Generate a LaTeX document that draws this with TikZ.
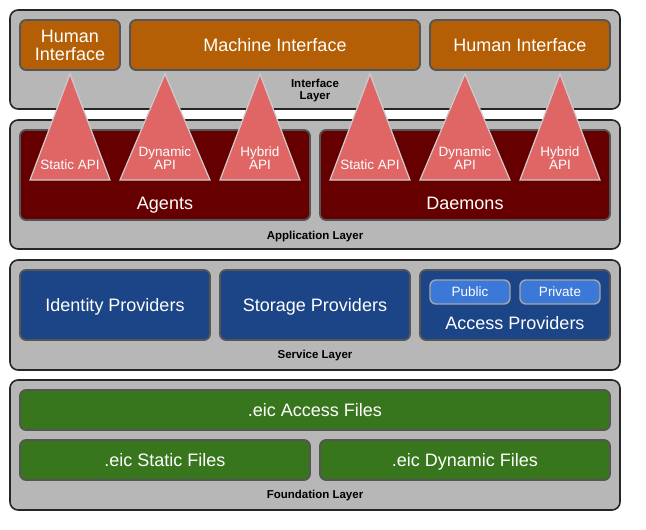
\documentclass[tikz,border=0pt]{standalone}
\usepackage{fontspec}
\setmainfont{Liberation Sans}
\usetikzlibrary{positioning}
\definecolor{layergray}{HTML}{B7B7B7}
\definecolor{ifaceorange}{HTML}{B45F06}
\definecolor{appred}{HTML}{660000}
\definecolor{svcblue}{HTML}{1C4587}
\definecolor{subblue}{HTML}{3C78D8}
\definecolor{fndgreen}{HTML}{38761D}
\definecolor{apipink}{HTML}{E06666}
\definecolor{boxline}{HTML}{555555}

\begin{document}
\begin{tikzpicture}[x=1pt,y=-1pt,
    layer/.style={draw=black!85, line width=1.6pt, fill=layergray, rounded corners=8pt, minimum width=610pt},
    box/.style={draw=boxline, line width=1.8pt, rounded corners=6pt, inner sep=0pt},
    txtml/.style={text=white, font=\fontsize{18}{18}\selectfont, align=center},
    txt/.style={txtml, text height=12.9pt, text depth=0pt},
    iface/.style={box, fill=ifaceorange, minimum height=50pt},
    app/.style={box, fill=appred, minimum width=290pt, minimum height=90pt},
    svc/.style={box, fill=svcblue, minimum width=190pt, minimum height=70pt},
    fnd/.style={box, fill=fndgreen, minimum height=40pt},
    sub/.style={draw=black!35, line width=1.4pt, rounded corners=6pt, fill=subblue, text=white,
        minimum width=80pt, minimum height=24pt, inner sep=0pt, text height=9.7pt, text depth=0pt,
        font=\fontsize{13.5}{14}\selectfont},
    api/.style={draw=black!20, line width=1.2pt, fill=apipink},
    apitext/.style={text=white, inner sep=0pt, anchor=south, align=center, font=\fontsize{13.5}{13}\selectfont},
    layername/.style={align=center, font=\bfseries\fontsize{11.5}{12}\selectfont}]
    \useasboundingbox (0,0) rectangle (646,530);

    % layers
    \node[layer, minimum height=99pt]  (l_iface) at (315,59.5) {};
    \node[layer, minimum height=129pt] (l_app)   at (315,184.5) {};
    \node[layer, minimum height=110pt] (l_svc)   at (315,315) {};
    \node[layer, minimum height=130pt] (l_fnd)   at (315,445) {};

    % interface layer
    \node[iface, minimum width=100pt, txtml] (hi_l) at (70,45)  {Human\\Interface};
    \node[iface, minimum width=290pt, txt] (mi)   at (275,45) {Machine Interface};
    \node[iface, minimum width=180pt, txt] (hi_r) at (520,45) {Human Interface};
    \node[layername] at (315,91) {Interface\\Layer};

    % application layer
    \node[app] (agents)  at (165,175) {};
    \node[app] (daemons) at (465,175) {};
    \node[txt] at (165,203.5) {Agents};
    \node[txt] at (465,203.5) {Daemons};
    \node[layername] at (315,237) {Application Layer};

    \foreach \cx/\hw/\txt in {70/40/Static API, 165/45/{Dynamic\\API}, 260/40/{Hybrid\\API},
                              370/40/Static API, 465/45/{Dynamic\\API}, 560/40/{Hybrid\\API}}{
        \draw[api] (\cx,74) -- (\cx-\hw,180) -- (\cx+\hw,180) -- cycle;
        \node[apitext] at (\cx,170) {\txt};
    }

    % service layer
    \node[svc, txt] (idp) at (115,305) {Identity Providers};
    \node[svc, txt] (stp) at (315,305) {Storage Providers};
    \node[svc] (acp) at (515,305) {};
    \node[sub] (pub)  at (470,292) {Public};
    \node[sub] (priv) at (560,292) {Private};
    \node[txt] at (515,323) {Access Providers};
    \node[layername] at (315,356) {Service Layer};

    % foundation layer
    \node[fnd, minimum width=590pt, txt] (f_acc) at (315,410) {.eic Access Files};
    \node[fnd, minimum width=290pt, txt] (f_sta) at (165,460) {.eic Static Files};
    \node[fnd, minimum width=290pt, txt] (f_dyn) at (465,460) {.eic Dynamic Files};
    \node[layername] at (315,496) {Foundation Layer};
\end{tikzpicture}
\end{document}
